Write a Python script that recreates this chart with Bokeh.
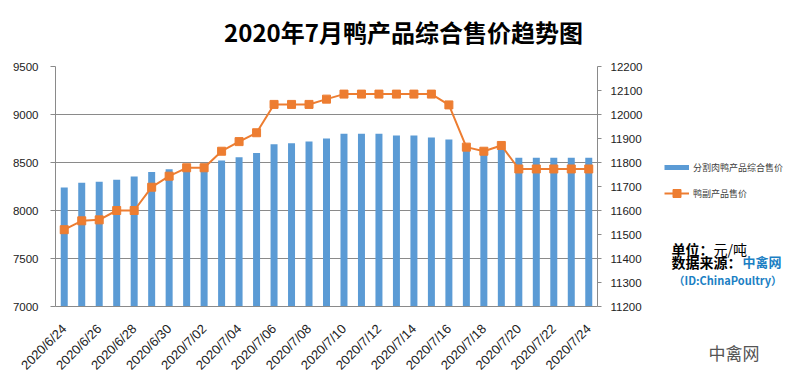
import math
from bokeh.plotting import figure
from bokeh.layouts import row, column
from bokeh.models import (ColumnDataSource, Range1d, LinearAxis, FixedTicker,
                          Legend, LegendItem, Label)
from bokeh.embed import file_html
from bokeh.resources import INLINE

title_text = "2020年7月鸭产品综合售价趋势图"
bar_name = "分割肉鸭产品综合售价"
line_name = "鸭副产品售价"

dates = ["2020/6/24", "2020/6/25", "2020/6/26", "2020/6/27", "2020/6/28", "2020/6/29",
         "2020/6/30", "2020/7/01", "2020/7/02", "2020/7/03", "2020/7/04", "2020/7/05",
         "2020/7/06", "2020/7/07", "2020/7/08", "2020/7/09", "2020/7/10", "2020/7/11",
         "2020/7/12", "2020/7/13", "2020/7/14", "2020/7/15", "2020/7/16", "2020/7/17",
         "2020/7/18", "2020/7/19", "2020/7/20", "2020/7/21", "2020/7/22", "2020/7/23",
         "2020/7/24"]

bar_values = [8240, 8290, 8300, 8320, 8355, 8400, 8430, 8460, 8490, 8520, 8555, 8600,
              8690, 8700, 8720, 8750, 8800, 8800, 8800, 8780, 8780, 8760, 8740, 8680,
              8650, 8690, 8550, 8550, 8550, 8550, 8550]

line_values = [11520, 11557, 11561, 11600, 11600, 11697, 11743, 11778, 11778, 11847,
               11887, 11924, 12042, 12042, 12042, 12064, 12085, 12085, 12085, 12085,
               12085, 12085, 12040, 11864, 11847, 11871, 11773, 11773, 11773, 11773,
               11773]

left_ticks = [7000, 7500, 8000, 8500, 9000, 9500]
right_ticks = [11200, 11300, 11400, 11500, 11600, 11700, 11800, 11900, 12000, 12100, 12200]

unit_label = "单位："
unit_value = "元/吨"
source_label = "数据来源："
source_value = "中禽网"
id_label = "（ID:ChinaPoultry）"
watermark = "中禽网"

BLUE = "#5B9BD5"
ORANGE = "#ED7D31"
GRID = "#8a8a8a"
LINK = "#1b7fc4"
NUM_FONT = "Liberation Sans"
CJK = "Noto Sans CJK SC"

W, H = 788, 383
TOP_H = 56
MAIN_W = 655
BODY_H = H - TOP_H

idx = list(range(len(dates)))
src = ColumnDataSource(dict(x=idx, bar=bar_values, line=line_values))

# ---------------- title strip ----------------
top = figure(width=W, height=TOP_H, output_backend="svg", toolbar_location=None,
             x_range=Range1d(0, W), y_range=Range1d(0, TOP_H),
             x_axis_type=None, y_axis_type=None, min_border=0)
top.frame_align = False
top.outline_line_color = None
top.xgrid.visible = False
top.ygrid.visible = False
top.add_layout(Label(x=403, y=TOP_H - 31, text=title_text, text_font=CJK,
                     text_font_size="24px", text_font_style="bold",
                     text_color="#000000", text_align="center",
                     text_baseline="middle"))

# ---------------- main chart ----------------
p = figure(width=MAIN_W, height=BODY_H, output_backend="svg", toolbar_location=None,
           x_range=Range1d(-0.5, len(dates) - 0.5),
           y_range=Range1d(left_ticks[0], left_ticks[-1]),
           min_border_left=55, min_border_right=58, min_border_top=10,
           min_border_bottom=77)
p.outline_line_color = None
p.extra_y_ranges = {"r": Range1d(right_ticks[0], right_ticks[-1])}

p.vbar(x="x", top="bar", bottom=left_ticks[0], width=0.4, source=src,
       fill_color=BLUE, line_color=None)
p.line(x="x", y="line", source=src, y_range_name="r", line_color=ORANGE, line_width=2)
p.scatter(x="x", y="line", source=src, y_range_name="r", marker="square",
          size=8, fill_color=ORANGE, line_color=ORANGE)

xa = p.xaxis[0]
xa.ticker = FixedTicker(ticks=idx[::2])
xa.major_label_overrides = {i: dates[i] for i in idx[::2]}
xa.major_label_orientation = math.pi / 4
xa.major_tick_line_color = None
xa.minor_tick_line_color = None
xa.axis_line_color = GRID
xa.major_label_text_font = NUM_FONT
xa.major_label_text_font_size = "13px"
xa.major_label_text_color = "#222222"
xa.major_label_standoff = 14

ya = p.yaxis[0]
ya.ticker = FixedTicker(ticks=left_ticks)
ya.axis_line_color = GRID
ya.major_tick_line_color = GRID
ya.major_tick_out = 5
ya.major_tick_in = 0
ya.minor_tick_line_color = None
ya.major_label_text_font = NUM_FONT
ya.major_label_text_font_size = "11.5px"
ya.major_label_text_color = "#222222"
ya.major_label_standoff = 12

ra = LinearAxis(y_range_name="r", ticker=FixedTicker(ticks=right_ticks))
ra.axis_line_color = GRID
ra.major_tick_line_color = GRID
ra.major_tick_out = 4
ra.major_tick_in = 0
ra.minor_tick_line_color = None
ra.major_label_text_font = NUM_FONT
ra.major_label_text_font_size = "11.5px"
ra.major_label_text_color = "#222222"
ra.major_label_standoff = 9
p.add_layout(ra, "right")

p.xgrid.visible = False
p.ygrid.ticker = FixedTicker(ticks=left_ticks)
p.ygrid.grid_line_color = GRID

# ---------------- side panel (legend + notes) ----------------
SW = W - MAIN_W
side = figure(width=SW, height=BODY_H, output_backend="svg", toolbar_location=None,
              x_range=Range1d(0, SW), y_range=Range1d(0, BODY_H),
              x_axis_type=None, y_axis_type=None, min_border=0)
side.frame_align = False
side.outline_line_color = None
side.xgrid.visible = False
side.ygrid.visible = False

# legend proxies (series values lie far outside this panel's range, so only the
# legend swatches are visible)
lb = side.line(x="x", y="bar", source=src, line_color=BLUE, line_width=5)
ll = side.line(x="x", y="line", source=src, line_color=ORANGE, line_width=2)
ls = side.scatter(x="x", y="line", source=src, marker="square", size=8,
                  fill_color=ORANGE, line_color=ORANGE)
legend = Legend(items=[LegendItem(label=bar_name, renderers=[lb]),
                       LegendItem(label=line_name, renderers=[ll, ls])],
                location=(9, 180), padding=0, margin=0, border_line_color=None,
                background_fill_alpha=0, glyph_width=25, glyph_height=20, spacing=6,
                label_standoff=4, label_text_font=CJK, label_text_font_size="9px",
                label_text_color="#404040")
side.add_layout(legend)

def lab(text, x, y, size, color="#000000", style="normal", align="left", font=CJK):
    side.add_layout(Label(x=x, y=y, text=text, text_font=font, text_font_size=size,
                          text_color=color, text_font_style=style, text_align=align,
                          text_baseline="middle"))

lab(unit_label, 16, 135, "14px", style="bold")
lab(unit_value, 58, 135, "14px")
lab(source_label, 16, 122, "14px", style="bold")
lab(source_value, 87, 122, "13px", color=LINK, style="bold")
lab(id_label, 18, 104, "11px", color=LINK, style="bold")
lab(watermark, 53, 31, "17px", color="#555555")

layout = column(top, row(p, side))
open("out.html", "w").write(file_html(layout, INLINE))
